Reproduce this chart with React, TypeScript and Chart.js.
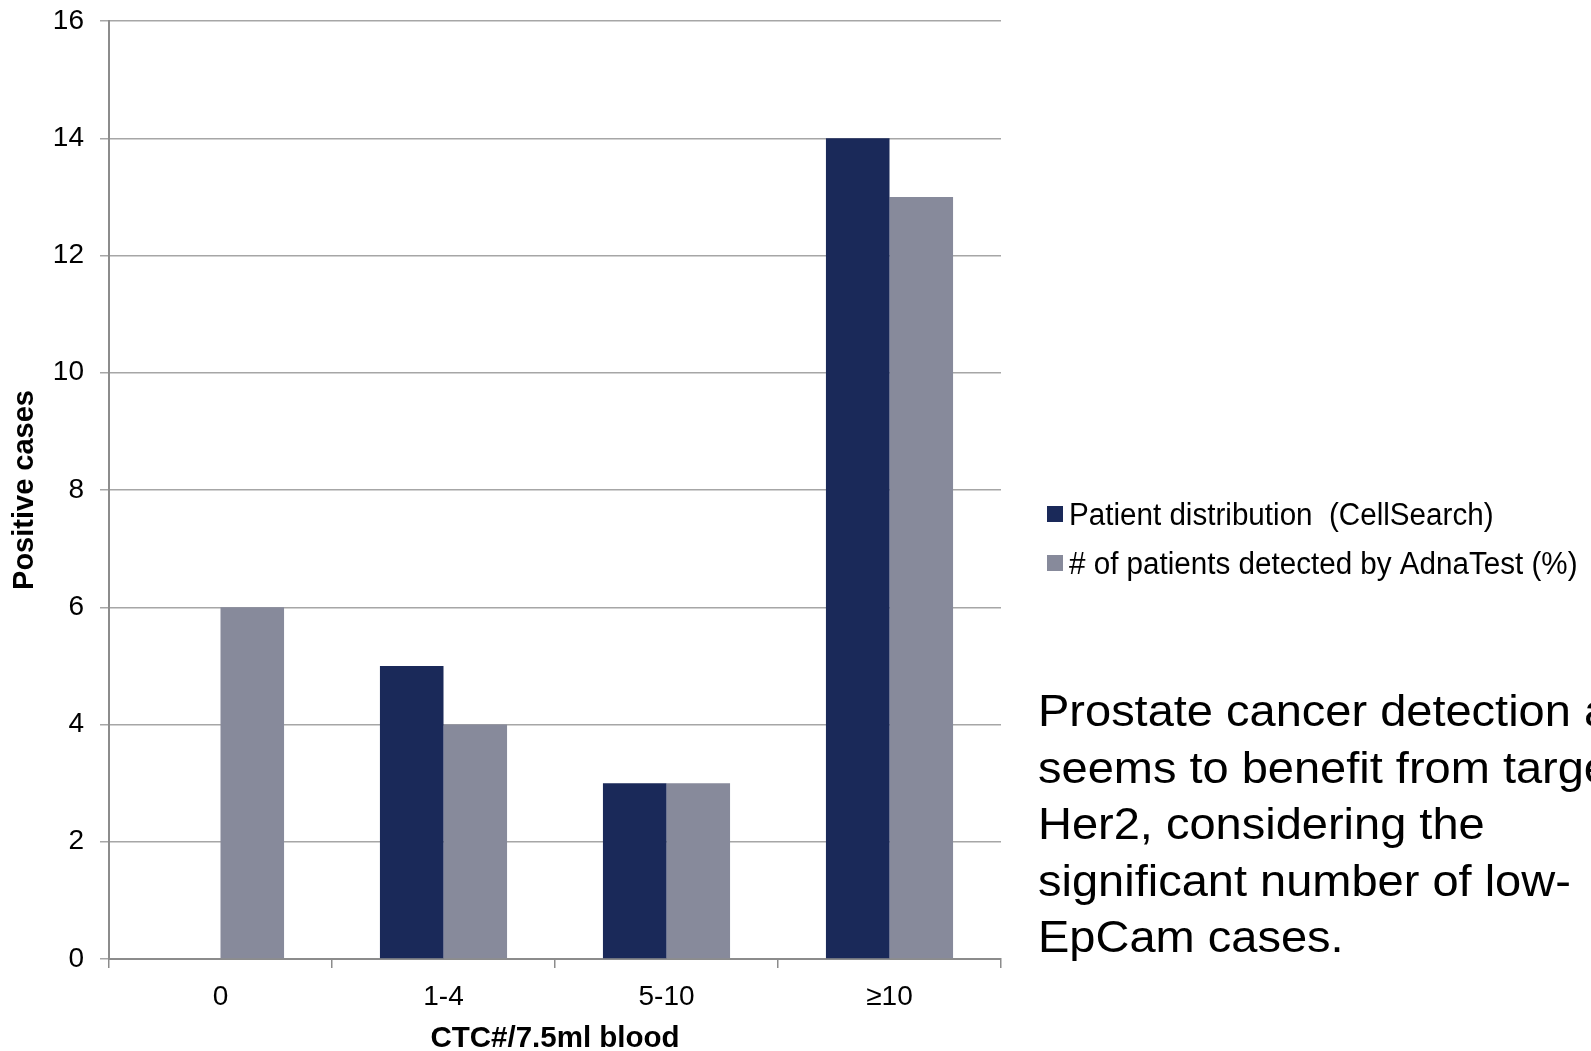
import React, { useEffect, useRef } from "react";
import { Chart, registerables } from "chart.js";

Chart.register(...registerables);

const categories = ["0", "1-4", "5-10", "≥10"];
const seriesNames = ["Patient distribution  (CellSearch)", "# of patients detected by AdnaTest (%)"];
const cellSearchValues = [0, 5, 3, 14];
const adnaTestValues = [6, 4, 3, 13];
const seriesColors = ["#1a2959", "#878a9b"];
const yTitle = "Positive cases";
const xTitle = "CTC#/7.5ml blood";
const noteLines = [
  "Prostate cancer detection also",
  "seems to benefit from targeting",
  "Her2, considering the",
  "significant number of low-",
  "EpCam cases.",
];

const FONT = "'Liberation Sans', Arial, sans-serif";

const sidePlugin = {
  id: "sideText",
  afterDraw(chart: any) {
    const ctx = chart.ctx as CanvasRenderingContext2D;
    ctx.save();
    // legend
    const legendY = [514, 563];
    chart.data.datasets.forEach((ds: any, i: number) => {
      const cy = legendY[i];
      ctx.fillStyle = ds.backgroundColor;
      ctx.fillRect(1047, cy - 8, 16, 16);
      ctx.save();
      ctx.translate(1069, cy + 11);
      ctx.scale(0.955, 1);
      ctx.fillStyle = "#000";
      ctx.font = `31px ${FONT}`;
      ctx.textBaseline = "alphabetic";
      ctx.textAlign = "left";
      ctx.fillText(ds.label, 0, 0);
      ctx.restore();
    });
    // annotation
    noteLines.forEach((line, i) => {
      ctx.save();
      ctx.translate(1038, 726 + i * 56.5);
      ctx.scale(1.068, 1);
      ctx.fillStyle = "#000";
      ctx.font = `44px ${FONT}`;
      ctx.textBaseline = "alphabetic";
      ctx.textAlign = "left";
      ctx.fillText(line, 0, 0);
      ctx.restore();
    });
    ctx.restore();
  },
};

export default function App() {
  const ref = useRef<HTMLCanvasElement>(null);
  useEffect(() => {
    document.body.style.margin = "0";
    document.body.style.overflow = "hidden";
    Chart.defaults.font.family = FONT;
    const chart = new Chart(ref.current!, {
      type: "bar",
      data: {
        labels: categories,
        datasets: [
          { label: seriesNames[0], data: cellSearchValues, backgroundColor: seriesColors[0], categoryPercentage: 0.57, barPercentage: 1 },
          { label: seriesNames[1], data: adnaTestValues, backgroundColor: seriesColors[1], categoryPercentage: 0.57, barPercentage: 1 },
        ],
      },
      options: {
        responsive: false,
        animation: false,
        devicePixelRatio: 1,
        layout: { padding: { left: 0, top: 21, right: 590, bottom: 0 } },
        plugins: { legend: { display: false }, tooltip: { enabled: false } },
        scales: {
          x: {
            afterFit: (s: any) => { s.height = 92; s.paddingLeft = 0; s.paddingRight = 0; },
            grid: { offset: true, drawOnChartArea: false, drawTicks: true, tickLength: 9, color: "#8c8c8c", lineWidth: 1.5 },
            border: { color: "#8c8c8c", width: 2 },
            ticks: { color: "#000", font: { size: 28 }, padding: 12 },
            title: { display: true, text: xTitle, color: "#000", font: { size: 29.5, weight: "bold", lineHeight: 0.85 }, padding: 0 },
          },
          y: {
            min: 0,
            max: 16,
            afterFit: (s: any) => { s.width = 109; s.paddingTop = 0; s.paddingBottom = 0; },
            grid: { color: "#a6a6a6", lineWidth: 1.5, tickLength: 9 },
            border: { color: "#8c8c8c", width: 2 },
            ticks: { stepSize: 2, color: "#000", font: { size: 28 }, padding: 16 },
            title: { display: true, text: yTitle, color: "#000", font: { size: 29, weight: "bold" }, padding: 8 },
          },
        },
      },
      plugins: [sidePlugin],
    });
    return () => chart.destroy();
  }, []);
  return (
    <div style={{ width: 1591, height: 1051, overflow: "hidden", background: "#fff" }}>
      <canvas ref={ref} width={1591} height={1051} style={{ display: "block" }} />
    </div>
  );
}
